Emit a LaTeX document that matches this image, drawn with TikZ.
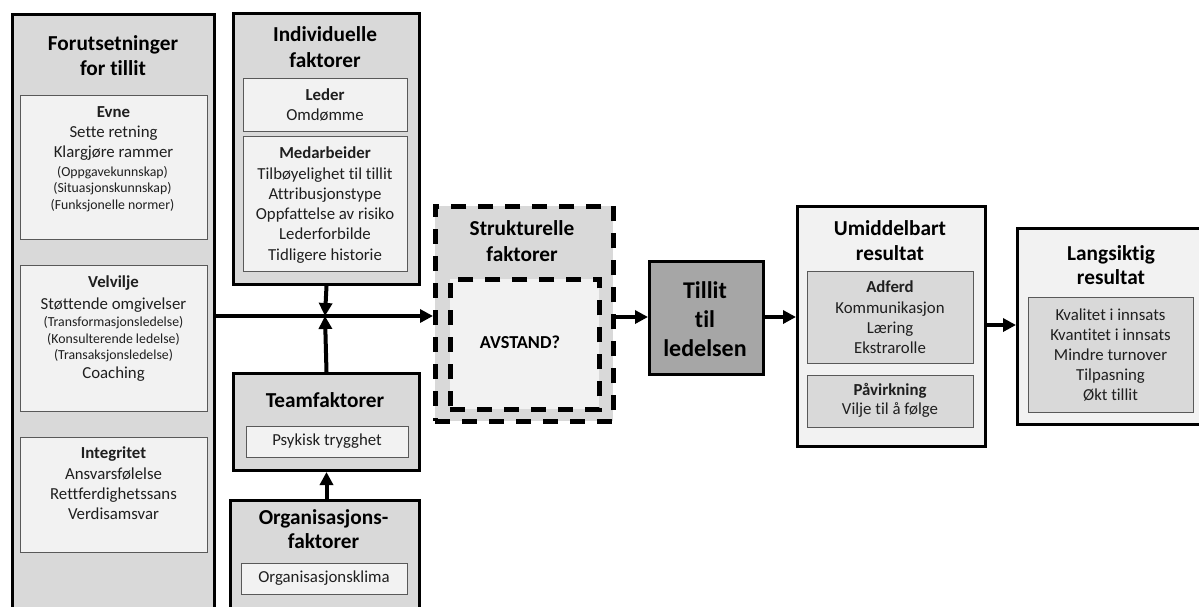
\documentclass[tikz,border=0pt]{standalone}
\usepackage{fontspec}
\setmainfont{Carlito}[Ligatures={NoCommon,NoRequired,NoContextual}]
\usetikzlibrary{arrows.meta}
\definecolor{fillD}{HTML}{D9D9D9}
\definecolor{fillF}{HTML}{F2F2F2}
\definecolor{fillA}{HTML}{A6A6A6}
\definecolor{edgeG}{HTML}{595959}
\definecolor{bodytxt}{HTML}{1F1F1F}
\newcommand\fsz[2]{\fontsize{#1}{#2}\selectfont}
\begin{document}
\begin{tikzpicture}[x=1pt,y=-1pt,
  outerbox/.style={draw=black,line width=3pt,fill=fillD,inner sep=0pt,anchor=north west},
  innerbox/.style={draw=edgeG,line width=1.3pt,fill=fillF,inner sep=0pt,anchor=north west},
  dashbox/.style={draw=black,line width=4.5pt,dash pattern=on 15pt off 12pt,inner sep=0pt,anchor=north west},
  title/.style={align=center,inner sep=0pt,text=black,font=\bfseries\fsz{21.3}{25}},
  body/.style={align=center,inner sep=0pt,text=bodytxt,font=\fsz{16.8}{20.3}},
  small/.style={align=center,inner sep=0pt,text=bodytxt,font=\fsz{13.8}{16.5}},
  flow/.style={line width=4pt,-{Triangle[length=13pt,width=13pt]}}
]
\useasboundingbox (0,0) rectangle (1199,606);
\clip (0,0) rectangle (1199,606);

% ---------- prerequisites column ----------
\node[outerbox,minimum width=202pt,minimum height=620pt] (lcol) at (11,13) {};
\node[title] (lcolT) at (113,55.5) {Forutsetninger\\for tillit};
\node[innerbox,minimum width=187pt,minimum height=144pt] (evne) at (20,95) {};
\node[body] (evneT) at (113.5,133.5) {\textbf{Evne}\\Sette retning\\Klargjøre rammer};
\node[small] (evneS) at (112.5,189) {(Oppgavekunnskap)\\(Situasjonskunnskap)\\(Funksjonelle normer)};
\node[innerbox,minimum width=187pt,minimum height=146pt] (velv) at (20,265) {};
\node[body,font=\fsz{16.8}{21.5}] (velvT) at (113.5,294) {\textbf{Velvilje}\\Støttende omgivelser};
\node[small] (velvS) at (113.5,339.5) {(Transformasjonsledelse)\\(Konsulterende ledelse)\\(Transaksjonsledelse)};
\node[body] (velvC) at (113.5,374) {Coaching};
\node[innerbox,minimum width=187pt,minimum height=115pt] (integ) at (20,437) {};
\node[body] (integT) at (113.5,483.5) {\textbf{Integritet}\\Ansvarsfølelse\\Rettferdighetssans\\Verdisamsvar};

% ---------- individual factors ----------
\node[outerbox,minimum width=186pt,minimum height=271pt] (indiv) at (232,12) {};
\node[title,font=\bfseries\fsz{21.3}{26}] (indivT) at (325,47.5) {Individuelle\\faktorer};
\node[innerbox,minimum width=164pt,minimum height=53pt] (leder) at (243,78) {};
\node[body] (lederT) at (325,105) {\textbf{Leder}\\Omdømme};
\node[innerbox,minimum width=164pt,minimum height=135pt] (medarb) at (243,136) {};
\node[body] (medarbT) at (325,205) {\textbf{Medarbeider}\\Tilbøyelighet til tillit\\Attribusjonstype\\Oppfattelse av risiko\\Lederforbilde\\Tidligere historie};

% ---------- team factors ----------
\node[outerbox,minimum width=186pt,minimum height=97pt] (team) at (232,372) {};
\node[title] (teamT) at (325,400) {Teamfaktorer};
\node[innerbox,minimum width=162pt,minimum height=31pt] (psyk) at (246,426) {};
\node[body] (psykT) at (327,441.5) {Psykisk trygghet};

% ---------- organisational factors ----------
\node[outerbox,minimum width=189pt,minimum height=130pt] (org) at (229,499) {};
\node[title,font=\bfseries\fsz{21.3}{23.5}] (orgT) at (323.5,529) {Organisasjons-\\faktorer};
\node[innerbox,minimum width=166pt,minimum height=31pt] (klima) at (241,563) {};
\node[body] (klimaT) at (324,578.5) {Organisasjonsklima};

% ---------- structural factors ----------
\node[dashbox,fill=fillD,minimum width=178pt,minimum height=215pt] (struct) at (433,204) {};
\node[title,font=\bfseries\fsz{21.3}{26}] (structT) at (522,241) {Strukturelle\\faktorer};
\node[dashbox,fill=fillF,minimum width=149pt,minimum height=130pt] (avst) at (448,277) {};
\node[inner sep=0pt,text=black,font=\bfseries\fsz{18.3}{20}] (avstT) at (520,342) {AVSTAND?};

% ---------- trust ----------
\node[outerbox,fill=fillA,minimum width=114pt,minimum height=113pt] (tillit) at (648,260) {};
\node[title,font=\bfseries\fsz{24}{29}] (tillitT) at (705,319) {Tillit\\til\\ledelsen};

% ---------- immediate outcome ----------
\node[outerbox,fill=fillF,minimum width=188pt,minimum height=240pt] (umid) at (796,205) {};
\node[title] (umidT) at (890,240.5) {Umiddelbart\\resultat};
\node[innerbox,fill=fillD,minimum width=166pt,minimum height=92pt] (adferd) at (807,271) {};
\node[body] (adferdT) at (890,317.5) {\textbf{Adferd}\\Kommunikasjon\\Læring\\Ekstrarolle};
\node[innerbox,fill=fillD,minimum width=166pt,minimum height=52pt] (pavirk) at (807,375) {};
\node[body,font=\fsz{16.8}{19.5}] (pavirkT) at (890,400.5) {\textbf{Påvirkning}\\Vilje til å følge};

% ---------- long-term outcome ----------
\node[outerbox,fill=fillF,minimum width=190pt,minimum height=196pt] (lang) at (1016,227) {};
\node[title,font=\bfseries\fsz{21.3}{24.5}] (langT) at (1111,265) {Langsiktig\\resultat};
\node[innerbox,fill=fillD,minimum width=165pt,minimum height=115pt] (langin) at (1028,297) {};
\node[body,font=\fsz{16.8}{20}] (langinT) at (1110.5,355) {Kvalitet i innsats\\Kvantitet i innsats\\Mindre turnover\\Tilpasning\\Økt tillit};

% ---------- connectors ----------
\coordinate (j) at (325,316);
\draw[flow] (lcol.east |- j) -- (struct.west |- j);
\draw[flow] (indiv.south) -- (j);
\draw[flow] (team.north) -- (j);
\draw[flow] (org.north -| team.south) -- (team.south);
\coordinate (k) at (0,317);
\draw[flow] (struct.east |- k) -- (tillit.west |- k);
\draw[flow] (tillit.east |- k) -- (umid.west |- k);
\coordinate (m) at (0,325);
\draw[flow] (umid.east |- m) -- (lang.west |- m);
\end{tikzpicture}
\end{document}
